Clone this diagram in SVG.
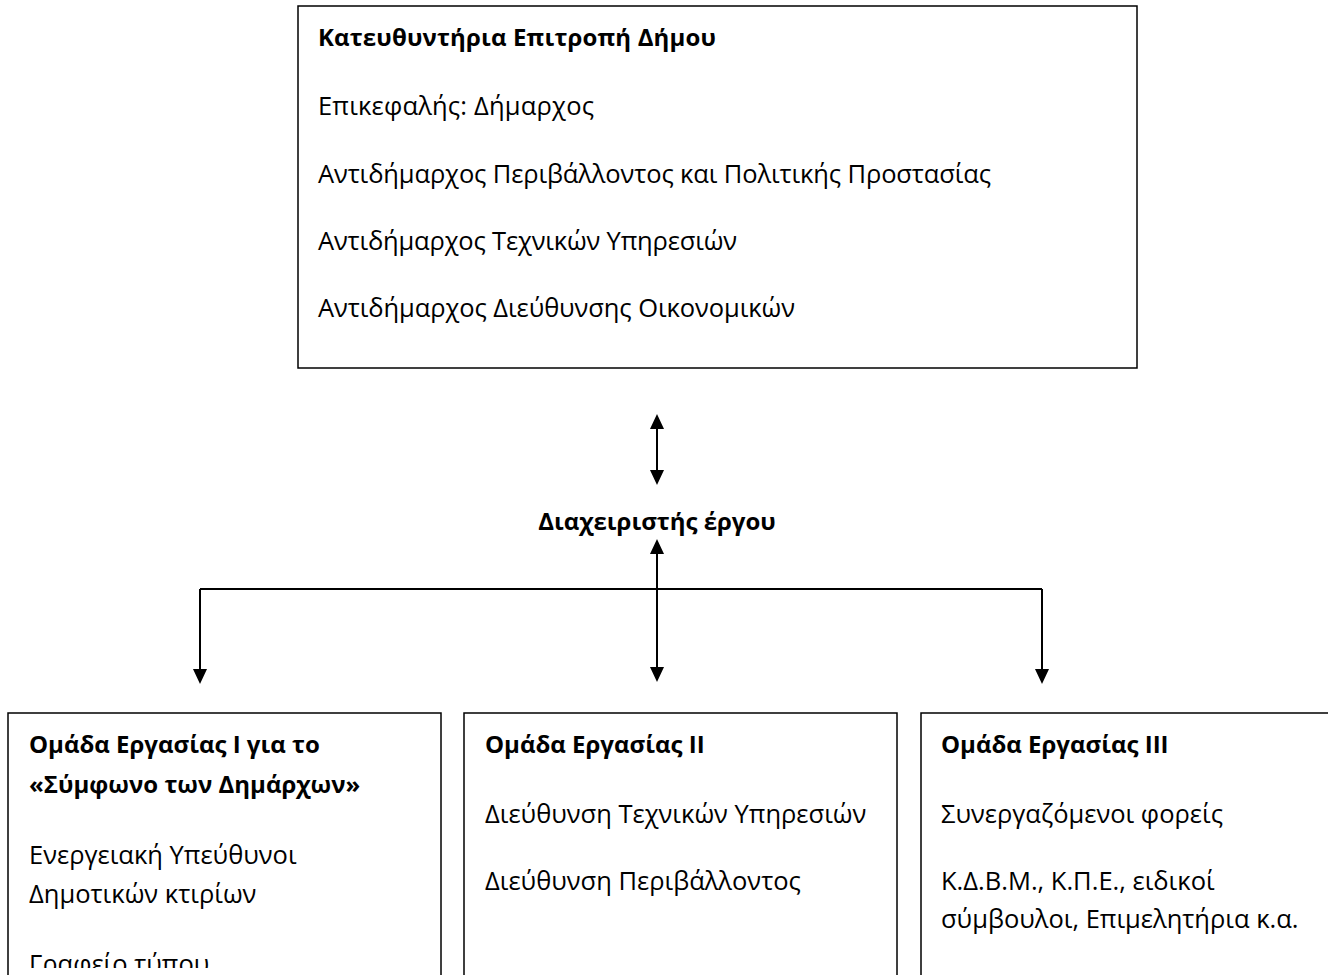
<svg xmlns="http://www.w3.org/2000/svg" width="1328" height="975" viewBox="0 0 1328 975">
<defs>
<style>
.box{fill:#fff;stroke:#000;stroke-width:1.5}
.t{font-family:"Open Sans","Noto Sans","Liberation Sans",sans-serif;font-size:25.5px;fill:#000}
.b{font-weight:bold;font-size:24px}
.c{fill:none;stroke:#000;stroke-width:2}
</style>
<marker id="ah" viewBox="0 0 15 14" markerWidth="15" markerHeight="14" refX="0" refY="7" orient="auto-start-reverse" markerUnits="userSpaceOnUse">
<path d="M0,0 L15,7 L0,14 z" fill="#000"/>
</marker>
<clipPath id="clipBottom"><rect x="0" y="0" width="1328" height="968"/></clipPath>
</defs>
<rect width="1328" height="975" fill="#fff"/>

<g id="steering">
<rect class="box" x="298" y="6" width="839" height="362"/>
<text class="t b" x="318" y="46" textLength="398" lengthAdjust="spacing">Κατευθυντήρια Επιτροπή Δήμου</text>
<text class="t" x="318" y="115" textLength="276" lengthAdjust="spacing">Επικεφαλής: Δήμαρχος</text>
<text class="t" x="318" y="183" textLength="673" lengthAdjust="spacing">Αντιδήμαρχος Περιβάλλοντος και Πολιτικής Προστασίας</text>
<text class="t" x="318" y="250" textLength="419" lengthAdjust="spacing">Αντιδήμαρχος Τεχνικών Υπηρεσιών</text>
<text class="t" x="318" y="317" textLength="477" lengthAdjust="spacing">Αντιδήμαρχος Διεύθυνσης Οικονομικών</text>
</g>

<g id="manager">
<text class="t b" x="657" y="530" text-anchor="middle">Διαχειριστής έργου</text>
</g>

<g id="connectors">
<path class="c" d="M657,429 V470" marker-start="url(#ah)" marker-end="url(#ah)"/>
<path class="c" d="M657,554 V667" marker-start="url(#ah)" marker-end="url(#ah)"/>
<path class="c" d="M200,589 H1042"/>
<path class="c" d="M200,589 V669" marker-end="url(#ah)"/>
<path class="c" d="M1042,589 V669" marker-end="url(#ah)"/>
</g>

<g id="group1">
<rect class="box" x="8" y="713" width="433" height="280"/>
<text class="t b" x="29" y="753">Ομάδα Εργασίας Ι για το</text>
<text class="t b" x="29" y="793">«Σύμφωνο των Δημάρχων»</text>
<text class="t" x="29" y="864">Ενεργειακή Υπεύθυνοι</text>
<text class="t" x="29" y="903">Δημοτικών κτιρίων</text>
<text class="t" x="29" y="973" clip-path="url(#clipBottom)">Γραφείο τύπου</text>
</g>

<g id="group2">
<rect class="box" x="464" y="713" width="433" height="280"/>
<text class="t b" x="485" y="753">Ομάδα Εργασίας ΙΙ</text>
<text class="t" x="485" y="823">Διεύθυνση Τεχνικών Υπηρεσιών</text>
<text class="t" x="485" y="890">Διεύθυνση Περιβάλλοντος</text>
</g>

<g id="group3">
<rect class="box" x="921" y="713" width="433" height="280"/>
<text class="t b" x="941" y="753">Ομάδα Εργασίας ΙΙΙ</text>
<text class="t" x="941" y="823">Συνεργαζόμενοι φορείς</text>
<text class="t" x="941" y="890">Κ.Δ.Β.Μ., Κ.Π.Ε., ειδικοί</text>
<text class="t" x="941" y="928">σύμβουλοι, Επιμελητήρια κ.α.</text>
</g>
</svg>
